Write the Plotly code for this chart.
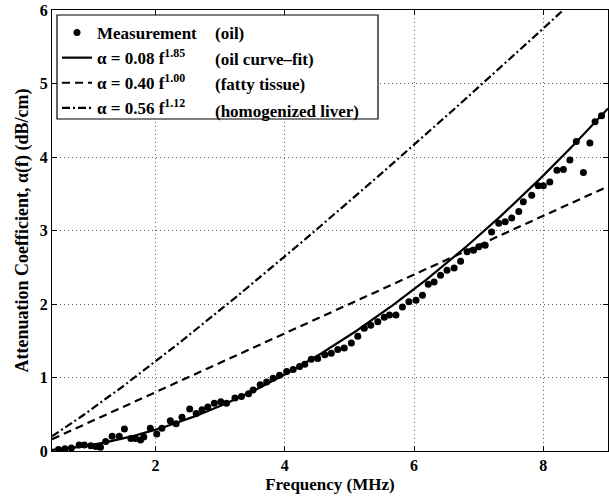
import numpy as np
import plotly.graph_objects as go

# Measured attenuation of oil sample
meas_freq = [0.5, 0.6, 0.7, 0.82, 0.90, 1.0, 1.08, 1.15, 1.23, 1.33, 1.44, 1.52, 1.62, 1.69,
             1.77, 1.82, 1.92, 2.02, 2.10, 2.23, 2.32, 2.41, 2.53, 2.63, 2.72, 2.81, 2.91,
             3.01, 3.10, 3.23, 3.33, 3.44, 3.51, 3.62, 3.72, 3.82, 3.92, 4.03, 4.13, 4.23,
             4.31, 4.41, 4.51, 4.62, 4.72, 4.82, 4.92, 5.03, 5.13, 5.23, 5.33, 5.44, 5.54,
             5.62, 5.72, 5.82, 5.92, 6.03, 6.13, 6.22, 6.31, 6.41, 6.51, 6.62, 6.72, 6.82,
             6.92, 7.00, 7.10, 7.20, 7.31, 7.41, 7.51, 7.62, 7.69, 7.82, 7.92, 8.00, 8.10,
             8.21, 8.31, 8.41, 8.51, 8.62, 8.72, 8.80, 8.90]
meas_alpha = [0.02, 0.03, 0.04, 0.08, 0.08, 0.07, 0.06, 0.05, 0.13, 0.20, 0.20, 0.30, 0.17, 0.17,
              0.15, 0.19, 0.31, 0.23, 0.31, 0.41, 0.37, 0.46, 0.57, 0.51, 0.56, 0.60, 0.65,
              0.67, 0.65, 0.72, 0.74, 0.78, 0.83, 0.90, 0.94, 0.99, 1.03, 1.08, 1.11, 1.15,
              1.18, 1.25, 1.26, 1.31, 1.33, 1.38, 1.40, 1.47, 1.56, 1.67, 1.71, 1.76, 1.82,
              1.85, 1.85, 1.96, 2.03, 2.05, 2.12, 2.27, 2.30, 2.39, 2.46, 2.49, 2.58, 2.71,
              2.73, 2.78, 2.80, 2.98, 3.10, 3.12, 3.17, 3.26, 3.39, 3.48, 3.61, 3.61, 3.66,
              3.82, 3.83, 3.96, 4.21, 3.79, 4.19, 4.48, 4.56]

# Power-law models alpha = a * f^n
model_names = ["α = 0.08 f<sup>1.85</sup>", "α = 0.40 f<sup>1.00</sup>", "α = 0.56 f<sup>1.12</sup>"]
model_notes = ["(oil curve\u2013fit)", "(fatty tissue)", "(homogenized liver)"]
model_coef = [0.08, 0.40, 0.56]
model_exp = [1.85, 1.00, 1.12]
model_dash = ["solid", "8px,5px", "8px,3px,2px,3px"]

x_range = [0.4, 9.0]
y_range = [0, 6]
x_ticks = [2, 4, 6, 8]
y_ticks = [0, 1, 2, 3, 4, 5, 6]

FONT = "Liberation Serif, Times New Roman, serif"

fig = go.Figure()
fig.add_trace(go.Scatter(
    x=meas_freq, y=meas_alpha, mode="markers", name="Measurement",
    legendgroup="m", marker=dict(color="black", size=7),
))
f_grid = np.linspace(x_range[0], x_range[1], 300)
for i, (nm, a, n, d) in enumerate(zip(model_names, model_coef, model_exp, model_dash)):
    fig.add_trace(go.Scatter(
        x=f_grid, y=a * f_grid ** n, mode="lines", name=nm, legendgroup=f"g{i}",
        line=dict(color="black", width=2.2, dash=d),
    ))

W, H = 609, 497
ML, MR, MT, MB = 52, 1, 10, 46
pw, ph = W - ML - MR, H - MT - MB


def px_x(p):
    return (p - ML) / pw


def px_y(p):
    return 1 - (p - MT) / ph


# legend frame
fig.add_shape(type="rect", xref="paper", yref="paper",
              x0=px_x(57), x1=px_x(378), y0=px_y(119), y1=px_y(15),
              line=dict(color="black", width=1.2), fillcolor="white", layer="above")

notes = ["(oil)"] + model_notes
rows = [33, 59, 85, 111]
for t, r in zip(notes, rows):
    fig.add_annotation(x=px_x(213), y=px_y(r), xref="paper", yref="paper",
                       text=t, showarrow=False, xanchor="left", yanchor="middle",
                       font=dict(family=FONT, size=17, color="black", weight="bold"))

axis_common = dict(
    showline=True, linecolor="black", linewidth=1, mirror="ticks",
    ticks="inside", ticklen=5, tickcolor="black",
    showgrid=True, gridcolor="#666666", gridwidth=1, griddash="1px,3px",
    zeroline=False,
    tickfont=dict(family=FONT, size=16, color="black", weight="bold"),
)

fig.update_xaxes(range=x_range, tickvals=x_ticks, **axis_common,
                 title=dict(text="Frequency (MHz)", standoff=4,
                            font=dict(family=FONT, size=17, color="black", weight="bold")))
fig.update_yaxes(range=y_range, tickvals=y_ticks, **axis_common,
                 title=dict(text="Attenuation Coefficient, α(f) (dB/cm)", standoff=6,
                            font=dict(family=FONT, size=18, color="black", weight="bold")))

fig.update_layout(
    width=W, height=H,
    margin=dict(l=ML, r=MR, t=MT, b=MB),
    paper_bgcolor="white", plot_bgcolor="white",
    font=dict(family=FONT, color="black"),
    showlegend=True,
    legend=dict(x=px_x(57), y=px_y(15), xanchor="left", yanchor="top",
                bgcolor="rgba(0,0,0,0)", borderwidth=0, tracegroupgap=0,
                font=dict(family=FONT, size=17, color="black", weight="bold")),
)

fig.write_html("out.html")
